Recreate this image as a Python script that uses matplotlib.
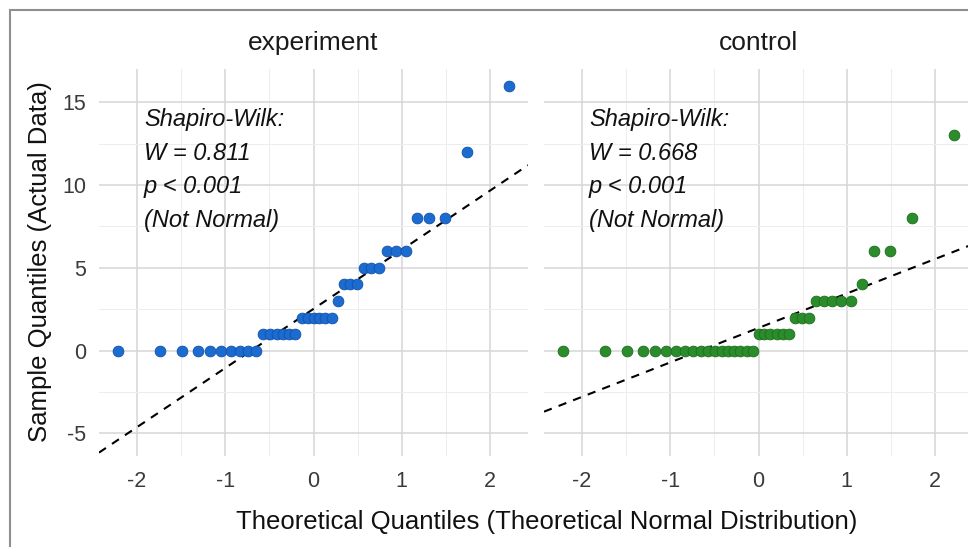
import statistics

import matplotlib
matplotlib.use("Agg")
import matplotlib.pyplot as plt
from matplotlib.patches import Rectangle

plt.rcParams["font.family"] = ["Liberation Sans", "DejaVu Sans"]
plt.rcParams["axes.unicode_minus"] = False

# sorted sample values per group (n = 37 each)
groups = ["experiment", "control"]
experiment_values = [0, 0, 0, 0, 0, 0, 0, 0, 0, 0,
                     1, 1, 1, 1, 1, 1,
                     2, 2, 2, 2, 2, 2,
                     3, 4, 4, 4, 5, 5, 5, 6, 6, 6,
                     8, 8, 8, 12, 16]
control_values = [0, 0, 0, 0, 0, 0, 0, 0, 0, 0, 0, 0, 0, 0, 0, 0, 0, 0,
                  1, 1, 1, 1, 1, 1,
                  2, 2, 2,
                  3, 3, 3, 3, 3,
                  4, 6, 6, 8, 13]

# reference line (intercept, slope) as it appears in each panel
experiment_line = (2.52, 3.57)
control_line = (1.37, 2.08)

shapiro_w = ["0.811", "0.668"]
shapiro_p = ["p < 0.001", "p < 0.001"]
verdicts = ["(Not Normal)", "(Not Normal)"]

point_colors = ["#1c6bd0", "#2b8c2b"]
edge_colors = ["#1152a8", "#1d6e1d"]

x_ticks = [-2, -1, 0, 1, 2]
y_ticks = [-5, 0, 5, 10, 15]


def theoretical_quantiles(n):
    nd = statistics.NormalDist()
    return [nd.inv_cdf((i + 0.5) / n) for i in range(n)]


W, H = 968, 547
fig = plt.figure(figsize=(W / 100, H / 100), dpi=100)
fig.patch.set_facecolor("white")


def px_axes(left, top, width, height):
    return fig.add_axes([left / W, (H - top - height) / H, width / W, height / H])


panels = [px_axes(99, 69, 429, 387), px_axes(544, 69, 429, 387)]
values = [experiment_values, control_values]
lines = [experiment_line, control_line]

for k, ax in enumerate(panels):
    vals = values[k]
    qs = theoretical_quantiles(len(vals))
    ax.set_xlim(-2.43, 2.43)
    ax.set_ylim(-6.36, 17.0)
    ax.set_xticks(x_ticks)
    ax.set_yticks(y_ticks)
    ax.set_xticks([-1.5, -0.5, 0.5, 1.5], minor=True)
    ax.set_yticks([-2.5, 2.5, 7.5, 12.5], minor=True)
    ax.grid(which="major", color="#d6d6d6", linewidth=1.1)
    ax.grid(which="minor", color="#ededed", linewidth=0.7)
    ax.set_axisbelow(True)
    for side in ax.spines.values():
        side.set_visible(False)
    ax.tick_params(which="both", length=0)
    ax.tick_params(axis="x", labelsize=15.5, labelcolor="#3a3a3a", pad=11)
    ax.tick_params(axis="y", labelsize=15.5, labelcolor="#3a3a3a", pad=9)
    if k == 1:
        ax.tick_params(axis="y", labelleft=False)

    b, m = lines[k]
    ax.axline((0, b), slope=m, color="black", linewidth=1.5,
              linestyle=(0, (4, 3.5)), zorder=3)
    ax.scatter(qs, vals, s=60, color=point_colors[k], edgecolor=edge_colors[k],
               linewidth=0.6, zorder=4)

    ax.text(-1.92, 10.9,
            f"Shapiro-Wilk:\nW = {shapiro_w[k]}\n{shapiro_p[k]}\n{verdicts[k]}",
            style="italic", fontsize=17, ha="left", va="center",
            linespacing=1.6, color="#111111")

    ax.set_title(groups[k], fontsize=19, color="#1a1a1a", pad=14)

fig.text(40 / W, 1 - 262 / H, "Sample Quantiles (Actual Data)", rotation=90,
         fontsize=18.5, ha="center", va="center", color="#111111")
fig.text(547 / W, 1 - 522 / H,
         "Theoretical Quantiles (Theoretical Normal Distribution)",
         fontsize=18.5, ha="center", va="center", color="#111111")

# outer frame of the original screenshot (cropped at right and bottom)
fig.patches.append(Rectangle((10 / W, -0.1), 1.2, 1 - 10 / H + 0.1,
                             transform=fig.transFigure, fill=False,
                             edgecolor="#8f8f8f", linewidth=1.5))

fig.savefig("out.png", dpi=100)
